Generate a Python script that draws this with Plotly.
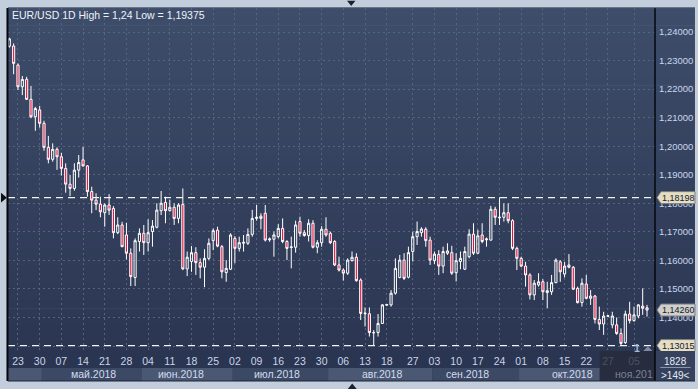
import plotly.graph_objects as go

# ---------------- data (EUR/USD daily) ----------------
opens = [1.2350, 1.2351, 1.2284, 1.2208, 1.2234, 1.2164, 1.2103, 1.2127, 1.2080, 1.1996,
         1.1954, 1.1989, 1.1963, 1.1922, 1.1867, 1.1852, 1.1916, 1.1952, 1.1931, 1.1841,
         1.1811, 1.1797, 1.1767, 1.1794, 1.1782, 1.1697, 1.1724, 1.1689, 1.1625, 1.1540,
         1.1666, 1.1695, 1.1662, 1.1701, 1.1716, 1.1774, 1.1803, 1.1774, 1.1786, 1.1747,
         1.1796, 1.1570, 1.1596, 1.1627, 1.1592, 1.1576, 1.1607, 1.1669, 1.1706, 1.1648,
         1.1557, 1.1569, 1.1677, 1.1642, 1.1660, 1.1660, 1.1691, 1.1747, 1.1755, 1.1765,
         1.1672, 1.1674, 1.1683, 1.1712, 1.1666, 1.1645, 1.1646, 1.1736, 1.1697, 1.1687,
         1.1730, 1.1646, 1.1662, 1.1709, 1.1695, 1.1666, 1.1584, 1.1566, 1.1555, 1.1599,
         1.1611, 1.1531, 1.1413, 1.1413, 1.1346, 1.1347, 1.1379, 1.1443, 1.1444, 1.1485,
         1.1540, 1.1601, 1.1541, 1.1631, 1.1683, 1.1697, 1.1709, 1.1671, 1.1599, 1.1621,
         1.1580, 1.1625, 1.1627, 1.1557, 1.1596, 1.1569, 1.1613, 1.1692, 1.1625, 1.1689,
         1.1672, 1.1671, 1.1779, 1.1749, 1.1751, 1.1767, 1.1739, 1.1642, 1.1607, 1.1580,
         1.1549, 1.1479, 1.1514, 1.1525, 1.1487, 1.1490, 1.1522, 1.1595, 1.1552, 1.1584,
         1.1576, 1.1502, 1.1452, 1.1517, 1.1467, 1.1475, 1.1393, 1.1377, 1.1404, 1.1374,
         1.1374, 1.1344, 1.1312, 1.1412, 1.1389, 1.1405, 1.1440, 1.1434]
highs = [1.2380, 1.2360, 1.2290, 1.2246, 1.2243, 1.2211, 1.2138, 1.2141, 1.2089, 1.2036,
         1.2010, 1.1996, 1.1977, 1.1940, 1.1899, 1.1940, 1.1969, 1.1998, 1.1934, 1.1858,
         1.1835, 1.1823, 1.1800, 1.1832, 1.1790, 1.1751, 1.1735, 1.1732, 1.1642, 1.1677,
         1.1712, 1.1724, 1.1744, 1.1741, 1.1800, 1.1843, 1.1823, 1.1812, 1.1800, 1.1800,
         1.1852, 1.1631, 1.1650, 1.1646, 1.1607, 1.1639, 1.1677, 1.1712, 1.1718, 1.1654,
         1.1601, 1.1695, 1.1685, 1.1683, 1.1689, 1.1712, 1.1777, 1.1794, 1.1765, 1.1794,
         1.1680, 1.1701, 1.1727, 1.1747, 1.1671, 1.1683, 1.1739, 1.1753, 1.1706, 1.1744,
         1.1741, 1.1671, 1.1720, 1.1751, 1.1701, 1.1671, 1.1613, 1.1572, 1.1607, 1.1631,
         1.1625, 1.1537, 1.1435, 1.1435, 1.1356, 1.1412, 1.1447, 1.1447, 1.1496, 1.1607,
         1.1619, 1.1625, 1.1648, 1.1701, 1.1736, 1.1716, 1.1716, 1.1683, 1.1631, 1.1636,
         1.1648, 1.1660, 1.1651, 1.1625, 1.1631, 1.1648, 1.1709, 1.1730, 1.1707, 1.1730,
         1.1680, 1.1791, 1.1788, 1.1821, 1.1800, 1.1800, 1.1744, 1.1648, 1.1613, 1.1595,
         1.1555, 1.1531, 1.1555, 1.1534, 1.1525, 1.1549, 1.1607, 1.1601, 1.1595, 1.1622,
         1.1580, 1.1508, 1.1537, 1.1549, 1.1496, 1.1479, 1.1438, 1.1420, 1.1408, 1.1420,
         1.1400, 1.1362, 1.1424, 1.1455, 1.1438, 1.1447, 1.1502, 1.1444]
lows = [1.2345, 1.2252, 1.2197, 1.2179, 1.2162, 1.2098, 1.2054, 1.2065, 1.1984, 1.1940,
        1.1946, 1.1917, 1.1897, 1.1837, 1.1825, 1.1844, 1.1890, 1.1928, 1.1823, 1.1765,
        1.1776, 1.1751, 1.1718, 1.1759, 1.1677, 1.1692, 1.1646, 1.1603, 1.1510, 1.1510,
        1.1631, 1.1619, 1.1631, 1.1648, 1.1712, 1.1759, 1.1730, 1.1771, 1.1724, 1.1730,
        1.1566, 1.1545, 1.1560, 1.1549, 1.1537, 1.1506, 1.1601, 1.1636, 1.1646, 1.1537,
        1.1525, 1.1566, 1.1590, 1.1631, 1.1631, 1.1654, 1.1683, 1.1739, 1.1709, 1.1666,
        1.1665, 1.1613, 1.1677, 1.1660, 1.1601, 1.1572, 1.1627, 1.1683, 1.1683, 1.1666,
        1.1642, 1.1625, 1.1648, 1.1683, 1.1657, 1.1580, 1.1561, 1.1529, 1.1549, 1.1596,
        1.1525, 1.1391, 1.1368, 1.1333, 1.1302, 1.1333, 1.1377, 1.1441, 1.1438, 1.1480,
        1.1537, 1.1531, 1.1537, 1.1596, 1.1654, 1.1683, 1.1648, 1.1584, 1.1587, 1.1549,
        1.1555, 1.1619, 1.1549, 1.1526, 1.1569, 1.1566, 1.1607, 1.1619, 1.1622, 1.1660,
        1.1648, 1.1669, 1.1724, 1.1724, 1.1736, 1.1730, 1.1636, 1.1566, 1.1576, 1.1508,
        1.1463, 1.1461, 1.1508, 1.1461, 1.1432, 1.1479, 1.1520, 1.1525, 1.1540, 1.1572,
        1.1496, 1.1449, 1.1438, 1.1464, 1.1444, 1.1379, 1.1356, 1.1339, 1.1402, 1.1362,
        1.1339, 1.1303, 1.1307, 1.1379, 1.1385, 1.1397, 1.1409, 1.1403]
closes = [1.2376, 1.2290, 1.2208, 1.2234, 1.2164, 1.2103, 1.2132, 1.2080, 1.1996, 1.1954,
          1.1989, 1.1963, 1.1922, 1.1867, 1.1852, 1.1916, 1.1943, 1.1931, 1.1841, 1.1811,
          1.1797, 1.1770, 1.1794, 1.1776, 1.1697, 1.1724, 1.1648, 1.1625, 1.1543, 1.1669,
          1.1695, 1.1662, 1.1697, 1.1720, 1.1776, 1.1800, 1.1774, 1.1786, 1.1747, 1.1794,
          1.1570, 1.1611, 1.1627, 1.1592, 1.1576, 1.1607, 1.1660, 1.1704, 1.1650, 1.1560,
          1.1572, 1.1689, 1.1642, 1.1662, 1.1663, 1.1691, 1.1747, 1.1751, 1.1747, 1.1671,
          1.1675, 1.1689, 1.1712, 1.1666, 1.1642, 1.1647, 1.1724, 1.1695, 1.1687, 1.1730,
          1.1646, 1.1662, 1.1709, 1.1689, 1.1662, 1.1584, 1.1566, 1.1555, 1.1601, 1.1611,
          1.1529, 1.1414, 1.1415, 1.1347, 1.1347, 1.1379, 1.1444, 1.1445, 1.1485, 1.1572,
          1.1601, 1.1537, 1.1627, 1.1683, 1.1701, 1.1710, 1.1669, 1.1601, 1.1622, 1.1580,
          1.1631, 1.1633, 1.1555, 1.1599, 1.1607, 1.1631, 1.1692, 1.1625, 1.1686, 1.1666,
          1.1675, 1.1779, 1.1751, 1.1751, 1.1767, 1.1739, 1.1642, 1.1607, 1.1580, 1.1549,
          1.1479, 1.1520, 1.1525, 1.1490, 1.1494, 1.1522, 1.1601, 1.1560, 1.1580, 1.1576,
          1.1499, 1.1452, 1.1520, 1.1467, 1.1475, 1.1393, 1.1377, 1.1405, 1.1406, 1.1405,
          1.1344, 1.1309, 1.1412, 1.1389, 1.1409, 1.1444, 1.1432, 1.1426]

day_ticks = [2, 7, 12, 17, 22, 27, 32, 37, 42, 47, 52, 57, 62, 67, 72, 77, 82, 87, 93, 98,
             103, 108, 113, 118, 123, 128, 133, 138, 144]
day_labels = ["23", "30", "07", "14", "21", "28", "04", "11", "18", "25", "02", "09", "16",
              "23", "30", "06", "13", "18", "27", "03", "10", "17", "24", "01", "08", "15",
              "22", "27", "05"]
month_labels = ["май.2018", "июн.2018", "июл.2018", "авг.2018", "сен.2018", "окт.2018"]
month_edges = [7.5, 30.5, 51.5, 73.5, 97.5, 117.5, 136.1]
month_label_pos = [19.3, 39.5, 61.7, 85.9, 105.7, 129.9]
y_ticks = [1.13, 1.14, 1.15, 1.16, 1.17, 1.18, 1.19, 1.20, 1.21, 1.22, 1.23, 1.24]
y_labels = ["1,13000", "1,14000", "1,15000", "1,16000", "1,17000", "1,18000",
            "1,19000", "1,20000", "1,21000", "1,22000", "1,23000", "1,24000"]
level_lines = [1.18198, 1.13015]
price_marks = [1.18198, 1.14260, 1.13015]
price_texts = ["1,18198", "1,14260", "1,13015"]
title_text = "EUR/USD 1D High = 1,24 Low = 1,19375"

# ---------------- styling ----------------
X_RANGE = [-0.3, 148.84]
Y_RANGE = [1.12825, 1.24841]
FONT = "Liberation Sans, Arial, sans-serif"
RIGHT_EDGE = 1.0618     # right panel edge in paper units
BOTTOM_EDGE = -0.0875   # bottom of x-axis band in paper units

fig = go.Figure()
fig.add_trace(go.Candlestick(
    x=list(range(len(opens))), open=opens, high=highs, low=lows, close=closes,
    increasing=dict(line=dict(color="#ffffff", width=1), fillcolor="rgba(0,0,0,0)"),
    decreasing=dict(line=dict(color="#ffffff", width=1), fillcolor="#e3123f"),
    whiskerwidth=0, showlegend=False, hoverinfo="skip"))

shapes = []
# vertical gradient background (plot + right axis panel)
top_c = (62, 77, 106)
bot_c = (43, 54, 82)
n = 40
for k in range(n):
    t = (k + 0.5) / n
    c = tuple(round(top_c[j] + (bot_c[j] - top_c[j]) * t) for j in range(3))
    shapes.append(dict(type="rect", xref="paper", yref="paper", x0=0, x1=RIGHT_EDGE,
                       y0=1 - (k + 1) / n - 0.002, y1=1 - k / n,
                       fillcolor="rgb(%d,%d,%d)" % c, line=dict(width=0), layer="below"))
# x-axis band background
shapes.append(dict(type="rect", xref="paper", yref="paper", x0=0, x1=RIGHT_EDGE,
                   y0=BOTTOM_EDGE, y1=0, fillcolor="#2a3551", line=dict(width=0), layer="below"))
# month bands
band_cols = ["#4a5874", "#3b4965"]
edges = [X_RANGE[0]] + month_edges
for k in range(len(edges) - 1):
    shapes.append(dict(type="rect", xref="x", yref="paper", x0=edges[k], x1=edges[k + 1],
                       y0=BOTTOM_EDGE, y1=-0.0496, fillcolor=band_cols[k % 2],
                       line=dict(width=0), layer="below"))
# bottom right info box
shapes.append(dict(type="rect", xref="paper", yref="paper", x0=1.0, x1=RIGHT_EDGE,
                   y0=BOTTOM_EDGE, y1=0, fillcolor="#36425d", line=dict(width=0), layer="below"))
shapes.append(dict(type="line", xref="paper", yref="paper", x0=1.008, x1=1.055,
                   y0=-0.048, y1=-0.048, line=dict(color="#8c98b0", width=1), layer="above"))
# level dashed lines
for lv in level_lines:
    shapes.append(dict(type="line", xref="paper", yref="y", x0=0, x1=1, y0=lv, y1=lv,
                       line=dict(color="#f4f4f4", width=1.2, dash="7px,5px"), layer="below"))
# dim overlay (future region of time scale)
shapes.append(dict(type="rect", xref="x", yref="paper", x0=month_edges[-1], x1=X_RANGE[1],
                   y0=BOTTOM_EDGE, y1=0, fillcolor="rgba(38,42,56,0.78)",
                   line=dict(width=0), layer="above"))
# frame lines
shapes.append(dict(type="line", xref="paper", yref="paper", x0=1.0, x1=1.0, y0=BOTTOM_EDGE, y1=1,
                   line=dict(color="#05070c", width=1.5), layer="above"))
shapes.append(dict(type="line", xref="paper", yref="paper", x0=-0.0008, x1=-0.0008,
                   y0=BOTTOM_EDGE, y1=1, line=dict(color="#05070c", width=2), layer="above"))
shapes.append(dict(type="line", xref="paper", yref="paper", x0=0, x1=RIGHT_EDGE, y0=1.001, y1=1.001,
                   line=dict(color="#5a6478", width=1), layer="above"))
shapes.append(dict(type="line", xref="paper", yref="paper", x0=0, x1=RIGHT_EDGE,
                   y0=BOTTOM_EDGE, y1=BOTTOM_EDGE, line=dict(color="#1c2438", width=1), layer="above"))

# price label boxes (arrow shaped) on the right scale
h = 0.0021
box_cols = ["#e4dec3", "#cfd0cb", "#e4dec3"]
for pm, col in zip(price_marks, box_cols):
    path = ("M 1.0031,%f L 1.0093,%f L %f,%f L %f,%f L 1.0093,%f Z"
            % (pm, pm + h, RIGHT_EDGE, pm + h, RIGHT_EDGE, pm - h, pm - h))
    shapes.append(dict(type="path", xref="paper", yref="y", path=path, fillcolor=col,
                       line=dict(color="#7d7f80", width=1), layer="above"))
# small triangle markers
shapes.append(dict(type="path", xref="paper", yref="y",
                   path="M -0.0108,%f L -0.0018,%f L -0.0108,%f Z"
                   % (level_lines[0] + 0.0017, level_lines[0], level_lines[0] - 0.0017),
                   fillcolor="#0c0f16", line=dict(width=0), layer="above"))
shapes.append(dict(type="path", xref="paper", yref="paper",
                   path="M 0.524,1.021 L 0.537,1.021 L 0.5305,1.006 Z",
                   fillcolor="#1a2230", line=dict(width=0), layer="above"))
shapes.append(dict(type="path", xref="paper", yref="paper",
                   path="M 0.525,-0.111 L 0.539,-0.111 L 0.532,-0.095 Z",
                   fillcolor="#1a2230", line=dict(width=0), layer="above"))
shapes.append(dict(type="path", xref="paper", yref="paper",
                   path="M 0.982,0.000 L 0.996,0.000 L 0.989,0.014 Z",
                   fillcolor="#7f8aa0", line=dict(width=0), layer="above"))

annotations = []
annotations.append(dict(text=title_text, xref="paper", yref="paper", x=0.003, y=0.98,
                        xanchor="left", yanchor="middle", showarrow=False,
                        font=dict(family=FONT, size=10.5, color="#eef2f8")))
for lab, pos in zip(month_labels, month_label_pos):
    annotations.append(dict(text=lab, xref="x", yref="paper", x=pos, y=-0.067,
                            xanchor="center", yanchor="middle", showarrow=False,
                            font=dict(family=FONT, size=10.5, color="#d3dcec")))
annotations.append(dict(text="ноя.201", xref="x", yref="paper", x=X_RANGE[1], y=-0.067,
                        xanchor="right", yanchor="middle", showarrow=False,
                        font=dict(family=FONT, size=10.5, color="#7b8396")))
for pm, txt in zip(price_marks, price_texts):
    annotations.append(dict(text=txt, xref="paper", yref="y", x=1.0085, y=pm,
                            xanchor="left", yanchor="middle", showarrow=False,
                            font=dict(family=FONT, size=9, color="#1a2030")))
annotations.append(dict(text="<b>1</b>", xref="paper", yref="paper", x=0.972, y=0.008,
                        xanchor="center", yanchor="middle", showarrow=False,
                        font=dict(family=FONT, size=10.5, color="#9fb8dc")))
annotations.append(dict(text="1828", xref="paper", yref="paper", x=1.031, y=-0.03,
                        xanchor="center", yanchor="middle", showarrow=False,
                        font=dict(family=FONT, size=10, color="#e4e9f2")))
annotations.append(dict(text="&gt;149&lt;", xref="paper", yref="paper", x=1.031, y=-0.07,
                        xanchor="center", yanchor="middle", showarrow=False,
                        font=dict(family=FONT, size=10, color="#e4e9f2")))

fig.update_layout(
    width=698, height=389,
    margin=dict(l=8, r=43, t=8, b=38, pad=0, autoexpand=False),
    paper_bgcolor="#c2cedc", plot_bgcolor="rgba(0,0,0,0)",
    shapes=shapes, annotations=annotations,
    showlegend=False, hovermode=False,
    font=dict(family=FONT, size=10.5),
    xaxis=dict(range=X_RANGE, tickmode="array", tickvals=day_ticks, ticktext=day_labels,
               showgrid=True, gridcolor="#56647f", griddash="2px,3px", gridwidth=1,
               zeroline=False, showline=False, ticks="", ticklabelstandoff=2,
               automargin=False,
               tickfont=dict(family=FONT, size=10.5, color="#c9d4e8"),
               rangeslider=dict(visible=False), fixedrange=True),
    yaxis=dict(range=Y_RANGE, side="right", tickmode="array", tickvals=y_ticks,
               ticktext=y_labels, showgrid=True, gridcolor="#56647f", griddash="2px,3px",
               gridwidth=1, zeroline=False, showline=False, ticks="", ticklabelstandoff=3,
               automargin=False,
               tickfont=dict(family=FONT, size=9.5, color="#c9d6ee"), fixedrange=True),
)

fig.write_html("out.html", config={"displayModeBar": False})

# remove the browser's default page margin so the figure sits at the window origin
with open("out.html", "r", encoding="utf-8") as f:
    html = f.read()
html = html.replace("<body>", '<body style="margin:0;padding:0;overflow:hidden">', 1)
with open("out.html", "w", encoding="utf-8") as f:
    f.write(html)
